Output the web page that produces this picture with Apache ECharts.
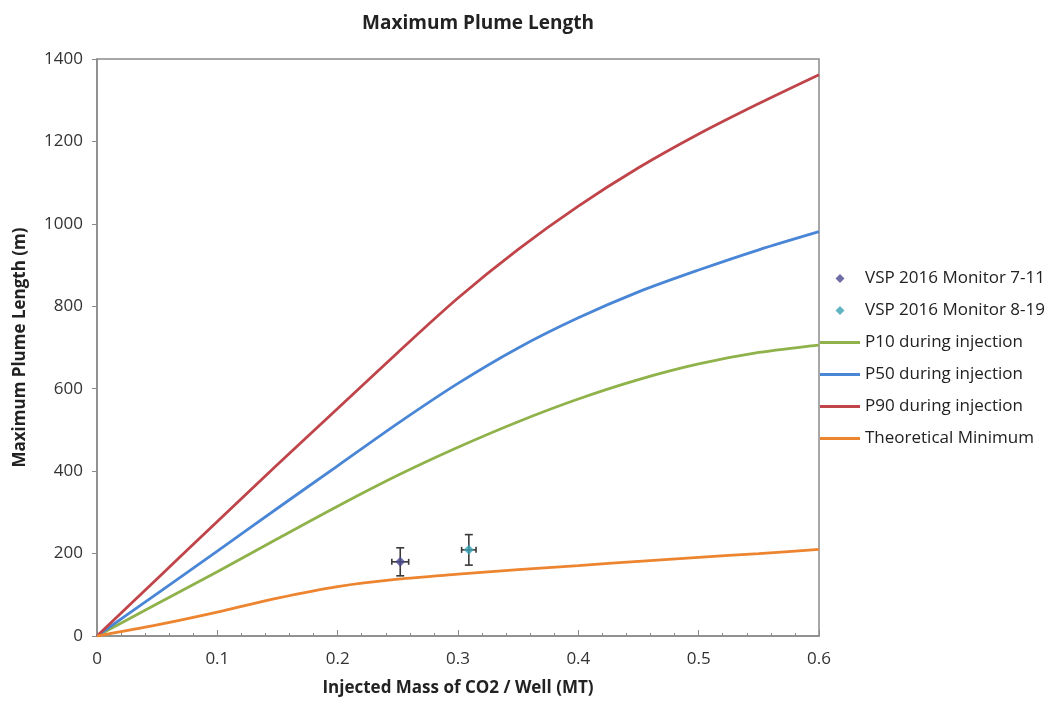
<!DOCTYPE html>
<html>
<head>
<meta charset="utf-8">
<script src="https://cdn.jsdelivr.net/npm/echarts@6/dist/echarts.min.js"></script>
<style>
html,body{margin:0;padding:0;background:#fff;}
#chart{width:1052px;height:702px;}
</style>
</head>
<body>
<div id="chart"></div>
<script>
// ---- data ----
const xMass = [0, 0.05, 0.1, 0.15, 0.2, 0.25, 0.3, 0.35, 0.4, 0.45, 0.5, 0.55, 0.6];
const p10 = [0, 78, 156, 236, 315, 390, 458, 520, 575, 622, 660, 688, 706];
const p50 = [0, 103, 206, 310, 413, 516, 613, 699, 772, 835, 888, 937, 981];
const p90 = [0, 139, 278, 416, 552, 688, 820, 938, 1043, 1136, 1218, 1292, 1362];
const theoMin = [0, 27, 58, 92, 120, 138, 150, 161, 171, 181, 191, 200, 210];

const vspNames = ['VSP 2016 Monitor 7-11', 'VSP 2016 Monitor 8-19'];
const vspX = [0.252, 0.309];
const vspY = [180, 209];
const vspXErr = [0.007, 0.006];
const vspYErr = [34, 37];

const lineNames = ['P10 during injection', 'P50 during injection', 'P90 during injection', 'Theoretical Minimum'];
const xTicks = { min: 0, max: 0.6, interval: 0.1 };
const yTicks = { min: 0, max: 1400, interval: 200 };

// ---- build ----
const FONT = 'Open Sans';
const pair = (xs, ys) => xs.map((x, i) => [x, ys[i]]);

const lineColors = ['#8fb24a', '#4a86d6', '#c0454a', '#ec8430'];
const lineData = [p10, p50, p90, theoMin];
const vspColors = ['#4a4a8e', '#3aa3b3'];

const lineSeries = lineNames.map((n, i) => ({
  name: n,
  type: 'line',
  data: pair(xMass, lineData[i]),
  smooth: 0.3,
  symbol: 'none',
  showSymbol: false,
  lineStyle: { color: lineColors[i], width: 2.8 },
  itemStyle: { color: lineColors[i] },
  z: 2
}));

const errSeries = {
  type: 'custom',
  name: 'errors',
  data: vspX.map((x, i) => [x, vspY[i], vspXErr[i], vspYErr[i]]),
  renderItem: function (params, api) {
    const x = api.value(0), y = api.value(1), xe = api.value(2), ye = api.value(3);
    const top = api.coord([x, y + ye]);
    const bot = api.coord([x, y - ye]);
    const lft = api.coord([x - xe, y]);
    const rgt = api.coord([x + xe, y]);
    const st = { stroke: '#3a3a3a', lineWidth: 1.6 };
    const cw = 4, ch = 3;
    return {
      type: 'group',
      children: [
        { type: 'line', shape: { x1: top[0], y1: top[1], x2: bot[0], y2: bot[1] }, style: st },
        { type: 'line', shape: { x1: top[0] - cw, y1: top[1], x2: top[0] + cw, y2: top[1] }, style: st },
        { type: 'line', shape: { x1: bot[0] - cw, y1: bot[1], x2: bot[0] + cw, y2: bot[1] }, style: st },
        { type: 'line', shape: { x1: lft[0], y1: lft[1], x2: rgt[0], y2: rgt[1] }, style: st },
        { type: 'line', shape: { x1: lft[0], y1: lft[1] - ch, x2: lft[0], y2: lft[1] + ch }, style: st },
        { type: 'line', shape: { x1: rgt[0], y1: rgt[1] - ch, x2: rgt[0], y2: rgt[1] + ch }, style: st }
      ]
    };
  },
  z: 3,
  silent: true
};

const vspSeries = vspNames.map((n, i) => ({
  name: n,
  type: 'scatter',
  data: [[vspX[i], vspY[i]]],
  symbol: 'diamond',
  symbolSize: 10,
  itemStyle: { color: vspColors[i] },
  z: 4
}));

const LINE_ICON = 'path://M0,0 L40,0 L40,3 L0,3 Z';
const DIAMOND_ICON = 'path://M5,0 L10,5 L5,10 L0,5 Z';

const chart = echarts.init(document.getElementById('chart'));
chart.setOption({
  animation: false,
  backgroundColor: '#ffffff',
  textStyle: { fontFamily: FONT },
  title: {
    text: 'Maximum Plume Length',
    left: 473,
    top: 9,
    textAlign: 'center',
    textStyle: { fontFamily: FONT, fontSize: 19, fontWeight: 'bold', color: '#222' }
  },
  grid: {
    left: 97, right: 233, top: 59, bottom: 66,
    show: true, borderColor: '#8a8a8a', borderWidth: 1.5, containLabel: false
  },
  legend: {
    orient: 'vertical',
    left: 820,
    top: 270,
    padding: 0,
    itemWidth: 40,
    itemHeight: 9,
    itemGap: 15,
    symbolKeepAspect: true,
    textStyle: { fontFamily: FONT, fontSize: 17, color: '#222', lineHeight: 17 },
    data: [
      { name: vspNames[0], icon: DIAMOND_ICON },
      { name: vspNames[1], icon: DIAMOND_ICON },
      ...lineNames.map(n => ({ name: n, icon: LINE_ICON }))
    ]
  },
  xAxis: {
    type: 'value',
    min: xTicks.min, max: xTicks.max, interval: xTicks.interval,
    name: 'Injected Mass of CO2 / Well (MT)',
    nameLocation: 'middle',
    nameGap: 44,
    nameTextStyle: { fontFamily: FONT, fontSize: 17, fontWeight: 'bold', color: '#222' },
    axisLine: { show: true, lineStyle: { color: '#8a8a8a', width: 1.5 } },
    axisTick: { show: true, inside: true, length: 6, lineStyle: { color: '#8a8a8a' } },
    minorTick: { show: true, splitNumber: 5, length: 3, lineStyle: { color: '#8a8a8a' } },
    splitLine: { show: false },
    axisLabel: { fontFamily: FONT, fontSize: 17, color: '#333', margin: 15 }
  },
  yAxis: {
    type: 'value',
    min: yTicks.min, max: yTicks.max, interval: yTicks.interval,
    name: 'Maximum Plume Length (m)',
    nameLocation: 'middle',
    nameGap: 68,
    nameTextStyle: { fontFamily: FONT, fontSize: 17, fontWeight: 'bold', color: '#222' },
    axisLine: { show: true, lineStyle: { color: '#8a8a8a', width: 1.5 } },
    axisTick: { show: true, inside: false, length: 5, lineStyle: { color: '#8a8a8a' } },
    splitLine: { show: false },
    axisLabel: { fontFamily: FONT, fontSize: 17, color: '#333', margin: 14, formatter: v => String(v) }
  },
  series: [...lineSeries, errSeries, ...vspSeries]
});
</script>
</body>
</html>
